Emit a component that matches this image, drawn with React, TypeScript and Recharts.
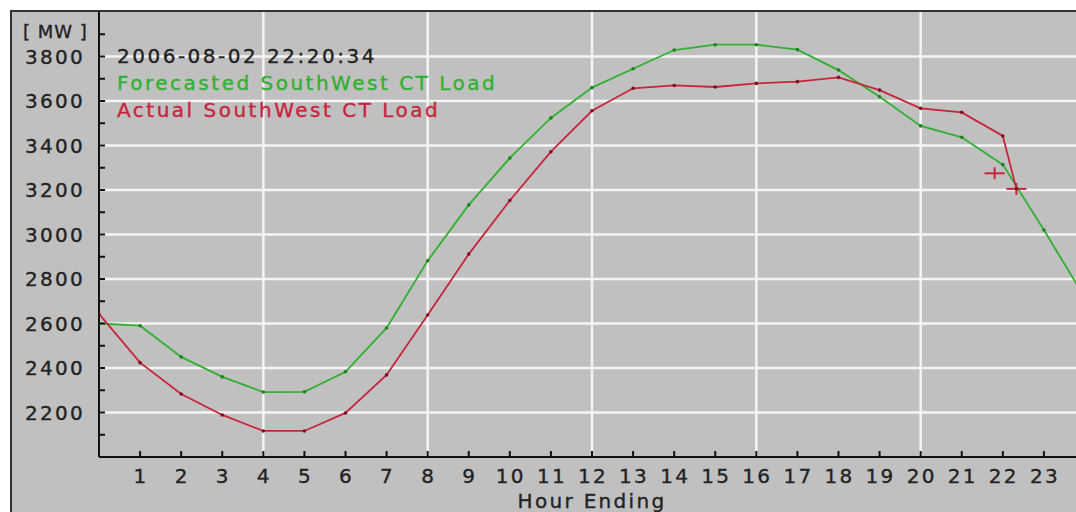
import {
  ComposedChart, Line, Scatter, XAxis, YAxis, CartesianGrid, Legend, Label,
} from "recharts";

// hourly forecast, hour 0..24 (24 sits just past the visible edge)
const forecastHours = [0, 1, 2, 3, 4, 5, 6, 7, 8, 9, 10, 11, 12, 13, 14, 15, 16, 17, 18, 19, 20, 21, 22, 23, 24];
const forecastLoad = [2600, 2590, 2450, 2360, 2292, 2293, 2383, 2580, 2882, 3133, 3344, 3524, 3660, 3745, 3829, 3853, 3853, 3831, 3739, 3619, 3488, 3437, 3314, 3020, 2715];

// actual load runs up to the timestamp (22:20)
const actualHours = [0, 1, 2, 3, 4, 5, 6, 7, 8, 9, 10, 11, 12, 13, 14, 15, 16, 17, 18, 19, 20, 21, 22, 22.33];
const actualLoad = [2643, 2424, 2283, 2189, 2117, 2117, 2198, 2369, 2638, 2912, 3153, 3372, 3556, 3657, 3670, 3663, 3679, 3687, 3706, 3649, 3567, 3549, 3443, 3205];

const markerHours = [21.8, 22.33];
const markerLoad = [3275, 3205];

const hourTicks = [1, 2, 3, 4, 5, 6, 7, 8, 9, 10, 11, 12, 13, 14, 15, 16, 17, 18, 19, 20, 21, 22, 23];
const mwTicks = [2100, 2200, 2300, 2400, 2500, 2600, 2700, 2800, 2900, 3000, 3100, 3200, 3300, 3400, 3500, 3600, 3700, 3800, 3900];
const mwLabels = [2200, 2400, 2600, 2800, 3000, 3200, 3400, 3600, 3800];
const gridHours = [4, 8, 12, 16, 20];
const gridMw = [2200, 2400, 2600, 2800, 3000, 3200, 3400, 3600, 3800];

const stamp = "2006-08-02 22:20:34";
const FORECAST = "Forecasted SouthWest CT Load";
const ACTUAL = "Actual SouthWest CT Load";
const seriesNames = [FORECAST, ACTUAL];

const forecastData = forecastHours.map((h, i) => ({ h, mw: forecastLoad[i] }));
const actualData = actualHours.map((h, i) => ({ h, mw: actualLoad[i] }));
const markerData = markerHours.map((h, i) => ({ h, mw: markerLoad[i] }));

const FONT = "'DejaVu Sans', sans-serif";
const INK = "#222";
const tickFont = {
  fontFamily: FONT, fontSize: 20, letterSpacing: 2.3, fill: INK, stroke: INK, strokeWidth: 0.35,
};
const GREEN = "#30b030";
const RED = "#c8243c";

const MwTick = ({ x, y, payload }: any) => (
  <g>
    <line x1={x} y1={y} x2={x + 6} y2={y} stroke="#111" strokeWidth={2} />
    {mwLabels.includes(payload.value) && (
      <text x={x - 14} y={y} dy="0.36em" textAnchor="end" style={tickFont}>
        {payload.value}
      </text>
    )}
  </g>
);

const HourTick = ({ x, y, payload }: any) => (
  <g>
    <line x1={x} y1={y} x2={x} y2={y - 6} stroke="#111" strokeWidth={2} />
    <text x={x + 1} y={y + 19} dy="0.36em" textAnchor="middle" style={tickFont}>
      {payload.value}
    </text>
  </g>
);

const Cross = ({ cx, cy }: any) => (
  <g stroke={RED} strokeWidth={2}>
    <line x1={cx - 10} y1={cy} x2={cx + 10} y2={cy} />
    <line x1={cx} y1={cy - 6} x2={cx} y2={cy + 6} />
  </g>
);

const renderLegend = ({ payload }: any) => (
  <div
    style={{
      fontFamily: FONT, fontSize: 20, letterSpacing: 2.5, lineHeight: "27px",
      whiteSpace: "nowrap", WebkitTextStroke: "0.35px currentColor",
    }}
  >
    <div style={{ color: INK }}>{stamp}</div>
    {seriesNames.map((name) => {
      const item = (payload || []).find((p: any) => p.value === name);
      return (
        <div key={name} style={{ color: item ? item.color : "#000" }}>
          {name}
        </div>
      );
    })}
  </div>
);

export default function App() {
  return (
    <div style={{ position: "absolute", left: 0, top: 0, width: 1076, height: 512, overflow: "hidden", background: "#fff" }}>
      <div
        style={{
          position: "absolute", left: 10, top: 10, width: 1100, height: 520,
          background: "#c0c0c0", borderLeft: "2px solid #333", borderTop: "2px solid #333",
        }}
      >
        <ComposedChart
          width={1073}
          height={505}
          margin={{ top: 0, right: 0, bottom: 0, left: 0 }}
        >
          <CartesianGrid
            stroke="#f4f4f4"
            strokeWidth={2.5}
            horizontalValues={gridMw}
            verticalValues={gridHours}
          />
          <XAxis
            type="number"
            dataKey="h"
            domain={[0, 24]}
            allowDataOverflow
            ticks={hourTicks}
            interval={0}
            height={60}
            tickSize={0}
            tickMargin={0}
            tickLine={false}
            axisLine={{ stroke: "#111", strokeWidth: 2 }}
            tick={<HourTick />}
          >
            <Label
              value="Hour Ending"
              position="insideTop"
              offset={37}
              style={tickFont}
            />
          </XAxis>
          <YAxis
            type="number"
            domain={[2000, 4000]}
            allowDataOverflow
            ticks={mwTicks}
            interval={0}
            width={87}
            tickSize={0}
            tickMargin={0}
            tickLine={false}
            axisLine={{ stroke: "#111", strokeWidth: 2 }}
            tick={<MwTick />}
          >
            <Label
              value="[ MW ]"
              position="insideTop"
              offset={13}
              style={{ ...tickFont, fontSize: 18, letterSpacing: 1 }}
            />
          </YAxis>
          <Legend
            content={renderLegend}
            layout="vertical"
            align="center"
            verticalAlign="middle"
            wrapperStyle={{ top: 31, left: 105, width: 520 }}
          />
          <Line
            name={FORECAST}
            data={forecastData}
            dataKey="mw"
            type="linear"
            stroke={GREEN}
            strokeWidth={1.8}
            dot={{ r: 1.8, fill: "#1d7f1d", stroke: "none" }}
            activeDot={false}
            isAnimationActive={false}
          />
          <Line
            name={ACTUAL}
            data={actualData}
            dataKey="mw"
            type="linear"
            stroke={RED}
            strokeWidth={1.8}
            dot={{ r: 1.8, fill: "#7a1020", stroke: "none" }}
            activeDot={false}
            isAnimationActive={false}
          />
          <Scatter
            data={markerData}
            dataKey="mw"
            legendType="none"
            shape={<Cross />}
            isAnimationActive={false}
          />
        </ComposedChart>
      </div>
    </div>
  );
}
